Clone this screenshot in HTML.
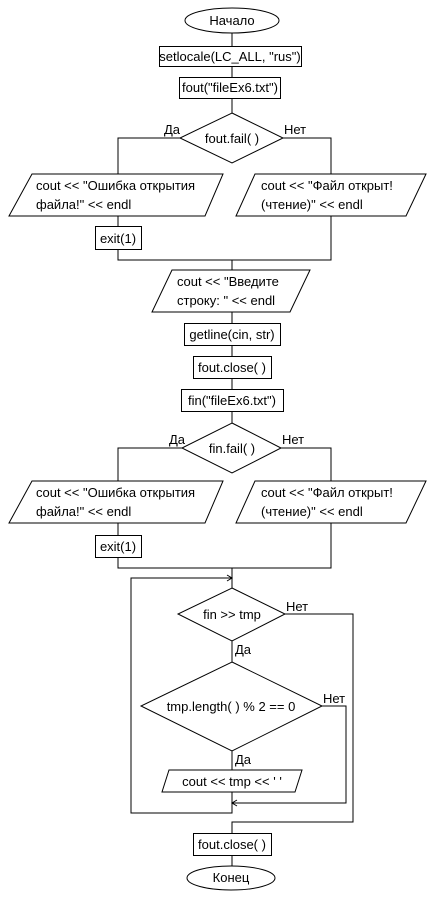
<!DOCTYPE html>
<html><head><meta charset="utf-8"><style>body{margin:0;background:#fff}svg{display:block}text{font-family:"Liberation Sans","DejaVu Sans",sans-serif;font-size:13px;fill:#000}</style></head><body>
<svg width="436" height="901" viewBox="0 0 436 901" xmlns="http://www.w3.org/2000/svg">
<g fill="none" stroke="#000" stroke-width="1" shape-rendering="crispEdges">
<line x1="232" y1="33" x2="232" y2="46"/><line x1="232" y1="66" x2="232" y2="77"/><line x1="232" y1="98" x2="232" y2="113"/>
<polyline points="180,138 118,138 118,174"/><polyline points="283,138 331,138 331,174"/>
<line x1="118" y1="216" x2="118" y2="226"/>
<polyline points="118,249 118,260 331,260 331,216"/>
<line x1="232" y1="260" x2="232" y2="270"/><line x1="232" y1="312" x2="232" y2="323"/><line x1="232" y1="345" x2="232" y2="356"/><line x1="232" y1="378" x2="232" y2="389"/><line x1="232" y1="411" x2="232" y2="423"/>
<polyline points="182,448 118,448 118,481"/><polyline points="281,448 331,448 331,481"/>
<line x1="118" y1="523" x2="118" y2="535"/>
<polyline points="118,557 118,568 331,568 331,523"/>
<line x1="232" y1="568" x2="232" y2="588"/>
<line x1="232" y1="641" x2="232" y2="662"/><line x1="232" y1="751" x2="232" y2="770"/>
<polyline points="232,792 232,813 131,813 131,578 232,578"/>
<polyline points="322,706 346,706 346,803 232,803"/>
<polyline points="285,614 353,614 353,822 232,822 232,833"/>
<line x1="232" y1="856" x2="232" y2="866"/>
</g>
<g fill="none" stroke="#000">
<polyline points="227,575 232,578 227,581"/><polyline points="237,800 232,803 237,806"/>
</g>
<g fill="#fff" stroke="#000" stroke-width="1">
<ellipse cx="232" cy="20.5" rx="47" ry="12.5"/>
<rect x="159.5" y="46.5" width="142" height="20"/>
<rect x="179.5" y="77.5" width="101" height="21"/>
<polygon points="232,113 283,138 232,163 180,138"/>
<polygon points="32,174 223,174 205,216 9,216"/>
<polygon points="255,174 426,174 406,216 236,216"/>
<rect x="95.5" y="226.5" width="46" height="23"/>
<polygon points="172,270 310,270 290,312 152,312"/>
<rect x="184.5" y="323.5" width="96" height="22"/>
<rect x="193.5" y="356.5" width="78" height="22"/>
<rect x="181.5" y="389.5" width="102" height="22"/>
<polygon points="232,423 281,448 232,473 182,448"/>
<polygon points="32,481 223,481 205,523 9,523"/>
<polygon points="255,481 426,481 406,523 236,523"/>
<rect x="95.5" y="535.5" width="46" height="22"/>
<polygon points="232,588 285,614 232,641 178,614"/>
<polygon points="232,662 322,706 232,751 141,706"/>
<polygon points="169,770 302,770 295,792 162,792"/>
<rect x="193.5" y="833.5" width="78" height="22"/>
<ellipse cx="231" cy="878" rx="44" ry="12"/>
</g>
<g text-anchor="middle">
<text x="232" y="25">Начало</text>
<text x="230" y="61">setlocale(LC_ALL, "rus")</text>
<text x="230" y="92">fout("fileEx6.txt")</text>
<text x="232" y="143">fout.fail( )</text>
<text x="118" y="243">exit(1)</text>
<text x="232" y="339">getline(cin, str)</text>
<text x="232" y="372">fout.close( )</text>
<text x="232" y="405">fin("fileEx6.txt")</text>
<text x="232" y="453">fin.fail( )</text>
<text x="118" y="551">exit(1)</text>
<text x="232" y="619">fin &gt;&gt; tmp</text>
<text x="231" y="711">tmp.length( ) % 2 == 0</text>
<text x="232" y="786">cout &lt;&lt; tmp &lt;&lt; ' '</text>
<text x="232" y="849">fout.close( )</text>
<text x="231" y="882">Конец</text>
</g>
<text x="36" y="190">cout &lt;&lt; "Ошибка открытия</text><text x="36" y="209">файла!" &lt;&lt; endl</text>
<text x="261" y="190">cout &lt;&lt; "Файл открыт!</text><text x="261" y="209">(чтение)" &lt;&lt; endl</text>
<text x="177" y="286">cout &lt;&lt; "Введите</text><text x="177" y="305">строку: " &lt;&lt; endl</text>
<text x="36" y="497">cout &lt;&lt; "Ошибка открытия</text><text x="36" y="516">файла!" &lt;&lt; endl</text>
<text x="261" y="497">cout &lt;&lt; "Файл открыт!</text><text x="261" y="516">(чтение)" &lt;&lt; endl</text>
<text x="164" y="134">Да</text><text x="284" y="134">Нет</text>
<text x="169" y="444">Да</text><text x="282" y="444">Нет</text>
<text x="286" y="611">Нет</text><text x="235" y="654">Да</text>
<text x="323" y="703">Нет</text><text x="235" y="764">Да</text>
</svg>
</body></html>
